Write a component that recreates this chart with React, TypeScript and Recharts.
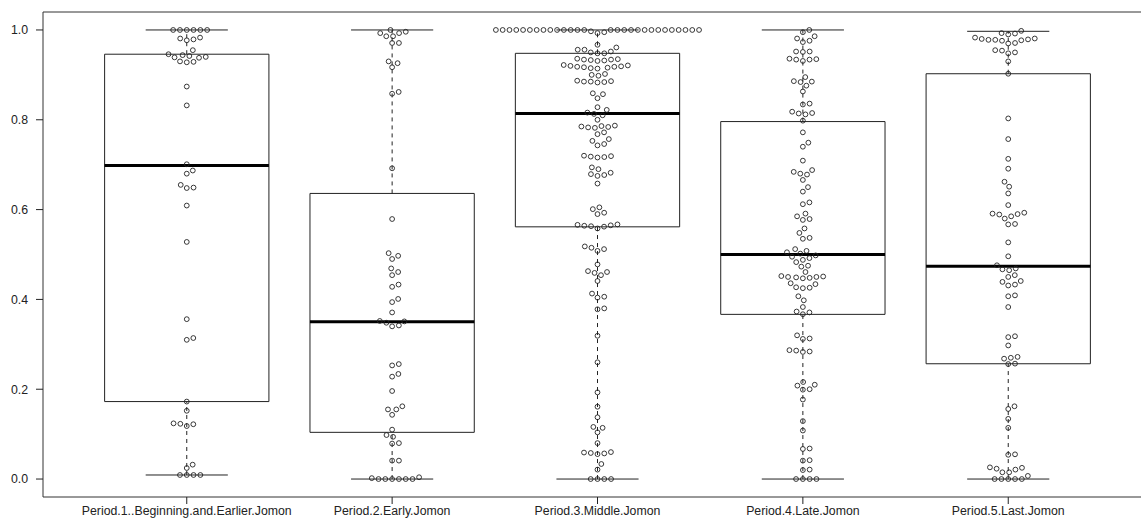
import { ComposedChart, Scatter, XAxis, YAxis, ReferenceArea, ReferenceLine } from 'recharts';

const periods = [
  'Period.1..Beginning.and.Earlier.Jomon',
  'Period.2.Early.Jomon',
  'Period.3.Middle.Jomon',
  'Period.4.Late.Jomon',
  'Period.5.Last.Jomon',
];

const period1 = [
  1, 1, 1, 1, 1, 1, 0.983, 0.981, 0.979, 0.977, 0.955,
  0.946, 0.944, 0.942, 0.94, 0.939, 0.938, 0.93, 0.929, 0.928,
  0.874, 0.832, 0.701, 0.687, 0.68, 0.655, 0.649, 0.648,
  0.609, 0.528, 0.356, 0.314, 0.31, 0.1725, 0.152,
  0.124, 0.123, 0.122, 0.118, 0.032, 0.0245, 0.009, 0.009, 0.009, 0.009,
];

const period2 = [
  1, 0.996, 0.993, 0.993, 0.986, 0.986, 0.971, 0.971,
  0.93, 0.926, 0.917, 0.862, 0.858, 0.692, 0.579,
  0.503, 0.497, 0.49, 0.469, 0.461, 0.454, 0.433, 0.428, 0.401, 0.394, 0.371,
  0.352, 0.351, 0.348, 0.342, 0.34, 0.256, 0.253, 0.234, 0.228, 0.196,
  0.162, 0.155, 0.155, 0.143, 0.11, 0.098, 0.094, 0.08, 0.079, 0.041, 0.041,
  0.004, 0.002, 0, 0, 0, 0, 0, 0,
];

const period3 = [
  1, 1, 1, 1, 1, 1, 1, 1, 1, 1, 1, 1, 1, 1,
  1, 1, 1, 1, 1, 1, 1, 1, 1, 1, 1, 1, 1, 1,
  0.997, 0.995, 0.993,
  0.967, 0.961, 0.956, 0.956, 0.952, 0.95, 0.948, 0.948,
  0.936, 0.935, 0.934, 0.934, 0.933, 0.932, 0.931,
  0.922, 0.921, 0.92, 0.919, 0.918, 0.918, 0.917, 0.916, 0.915, 0.914,
  0.902, 0.9, 0.898, 0.887, 0.886, 0.885, 0.885, 0.884, 0.883,
  0.859, 0.857, 0.848, 0.828, 0.822, 0.816, 0.813, 0.81, 0.8,
  0.787, 0.786, 0.785, 0.784, 0.783, 0.782, 0.772, 0.768, 0.757, 0.753, 0.746, 0.743,
  0.72, 0.719, 0.718, 0.717, 0.716, 0.694, 0.69, 0.682, 0.679, 0.677, 0.675,
  0.658, 0.605, 0.601, 0.593, 0.59, 0.567, 0.566, 0.565, 0.564, 0.563, 0.562,
  0.558, 0.518, 0.515, 0.512, 0.508, 0.478, 0.463, 0.461, 0.459, 0.454, 0.441,
  0.413, 0.406, 0.404, 0.38, 0.378, 0.319, 0.26, 0.193, 0.161, 0.1375,
  0.116, 0.114, 0.104, 0.08, 0.06, 0.059, 0.058, 0.057, 0.0555, 0.0335, 0.021,
  0, 0, 0, 0,
];

const period4 = [
  1, 0.995, 0.986, 0.981, 0.976, 0.973, 0.952, 0.952, 0.951,
  0.936, 0.935, 0.934, 0.934, 0.931, 0.895, 0.886, 0.885, 0.884, 0.876, 0.863,
  0.836, 0.834, 0.818, 0.815, 0.814, 0.812, 0.798, 0.772, 0.749, 0.74, 0.709,
  0.688, 0.684, 0.68, 0.678, 0.666, 0.65, 0.64, 0.616, 0.612,
  0.591, 0.585, 0.579, 0.577, 0.558, 0.548, 0.537, 0.535,
  0.512, 0.508, 0.505, 0.502, 0.498, 0.495, 0.492, 0.488, 0.483, 0.475, 0.473, 0.461,
  0.452, 0.451, 0.45, 0.45, 0.449, 0.448, 0.447, 0.436, 0.434, 0.427, 0.426, 0.425,
  0.407, 0.398, 0.383, 0.373, 0.371, 0.367, 0.32, 0.313, 0.312,
  0.287, 0.286, 0.284, 0.283, 0.216, 0.21, 0.208, 0.2, 0.199,
  0.177, 0.129, 0.108, 0.068, 0.067, 0.042, 0.041, 0.021, 0.02, 0, 0, 0, 0,
];

const period5 = [
  0.998, 0.993, 0.992, 0.99, 0.983, 0.981, 0.98, 0.979, 0.978, 0.978, 0.977, 0.976,
  0.971, 0.97, 0.955, 0.954, 0.95, 0.948, 0.93, 0.9025,
  0.803, 0.757, 0.713, 0.691, 0.662, 0.651, 0.636, 0.61,
  0.593, 0.591, 0.59, 0.589, 0.585, 0.58, 0.568, 0.567, 0.527, 0.496, 0.476,
  0.469, 0.467, 0.465, 0.454, 0.45, 0.441, 0.439, 0.433, 0.431,
  0.409, 0.407, 0.383, 0.318, 0.316, 0.2975, 0.272, 0.27, 0.268, 0.257, 0.256,
  0.162, 0.156, 0.134, 0.114, 0.055, 0.054,
  0.026, 0.025, 0.023, 0.021, 0.015, 0.015, 0.007, 0, 0, 0, 0, 0,
];

// five-number summaries of the boxes
const whiskerLow = [0.009, 0, 0, 0, 0];
const lowerHinge = [0.1725, 0.104, 0.5616, 0.3667, 0.2567];
const medians = [0.698, 0.35, 0.814, 0.5, 0.474];
const upperHinge = [0.946, 0.636, 0.948, 0.796, 0.9025];
const whiskerHigh = [1, 1, 1, 1, 0.997];

const groups = [period1, period2, period3, period4, period5];

const CHART_W = 1152;
const CHART_H = 527;
const Y_AXIS_W = 43;
const X_AXIS_H = 30;
const TOP = 12;
const X_DOMAIN: [number, number] = [0.3, 5.7];
const Y_DOMAIN: [number, number] = [-0.04, 1.04];
const PX_X = (CHART_W - Y_AXIS_W) / (X_DOMAIN[1] - X_DOMAIN[0]);
const PX_Y = (CHART_H - TOP - X_AXIS_H) / (Y_DOMAIN[1] - Y_DOMAIN[0]);
const SPACING = 6.8; // px between swarm point centres
const BOX_HALF = 0.4;
const INK = '#222';

// beeswarm "swarm" layout: place points lowest first, as close to the centre as they fit
function swarmOffsets(values: number[]): number[] {
  const order = values.map((_, i) => i).sort((a, b) => values[a] - values[b]);
  const placed: { x: number; y: number }[] = [];
  const out = new Array(values.length).fill(0);
  for (const i of order) {
    const y = (values[i] * PX_Y) / SPACING;
    const near = placed.filter((p) => Math.abs(p.y - y) < 1);
    const cands = [0];
    for (const p of near) {
      const d = Math.sqrt(1 - (p.y - y) ** 2);
      cands.push(p.x + d, p.x - d);
    }
    let best = Infinity;
    for (const c of cands) {
      if (near.some((p) => (p.x - c) ** 2 + (p.y - y) ** 2 < 0.999)) continue;
      if (Math.abs(c) < Math.abs(best)) best = c;
    }
    placed.push({ x: best, y });
    out[i] = (best * SPACING) / PX_X;
  }
  return out;
}

const points = groups.flatMap((vals, g) => {
  const offs = swarmOffsets(vals);
  return vals.map((v, i) => ({ x: g + 1 + offs[i], y: v }));
});

const OpenCircle = (props: any) => (
  <circle cx={props.cx} cy={props.cy} r={2.4} fill="none" stroke={INK} strokeWidth={0.9} />
);

export default function App() {
  const tickStyle = { fontSize: 12.3, fill: INK, fontFamily: 'Liberation Sans, Arial, sans-serif' };
  return (
    <div
      style={{
        position: 'fixed',
        left: 0,
        top: 0,
        width: 1141,
        height: 527,
        overflow: 'hidden',
        background: '#fff',
      }}
    >
      <ComposedChart
        width={CHART_W}
        height={CHART_H}
        margin={{ top: TOP, right: 0, bottom: 0, left: 0 }}
        data={points}
      >
        <XAxis
          type="number"
          dataKey="x"
          domain={X_DOMAIN}
          ticks={[1, 2, 3, 4, 5]}
          interval={0}
          tickFormatter={(v: number) => periods[v - 1]}
          height={X_AXIS_H}
          tick={tickStyle}
          tickSize={7}
          tickMargin={2}
          tickLine={{ stroke: INK }}
          axisLine={false}
          allowDataOverflow
        />
        <YAxis
          type="number"
          dataKey="y"
          domain={Y_DOMAIN}
          ticks={[0, 0.2, 0.4, 0.6, 0.8, 1]}
          tickFormatter={(v: number) => v.toFixed(1)}
          width={Y_AXIS_W}
          tick={tickStyle}
          tickSize={7}
          tickMargin={8}
          tickLine={{ stroke: INK }}
          axisLine={false}
          allowDataOverflow
        />
        <ReferenceArea
          x1={X_DOMAIN[0]}
          x2={X_DOMAIN[1]}
          y1={Y_DOMAIN[0]}
          y2={Y_DOMAIN[1]}
          fill="none"
          stroke="#333"
          strokeWidth={1}
          ifOverflow="visible"
        />
        {groups.map((_, g) => {
          const c = g + 1;
          return [
            <ReferenceLine
              key={`wl${g}`}
              segment={[{ x: c, y: whiskerLow[g] }, { x: c, y: lowerHinge[g] }]}
              stroke={INK}
              strokeDasharray="4 4"
            />,
            <ReferenceLine
              key={`wh${g}`}
              segment={[{ x: c, y: upperHinge[g] }, { x: c, y: whiskerHigh[g] }]}
              stroke={INK}
              strokeDasharray="4 4"
            />,
            <ReferenceLine
              key={`sl${g}`}
              segment={[{ x: c - BOX_HALF / 2, y: whiskerLow[g] }, { x: c + BOX_HALF / 2, y: whiskerLow[g] }]}
              stroke={INK}
            />,
            <ReferenceLine
              key={`sh${g}`}
              segment={[{ x: c - BOX_HALF / 2, y: whiskerHigh[g] }, { x: c + BOX_HALF / 2, y: whiskerHigh[g] }]}
              stroke={INK}
            />,
            <ReferenceArea
              key={`box${g}`}
              x1={c - BOX_HALF}
              x2={c + BOX_HALF}
              y1={lowerHinge[g]}
              y2={upperHinge[g]}
              fill="none"
              stroke={INK}
              strokeWidth={1}
            />,
            <ReferenceLine
              key={`med${g}`}
              segment={[{ x: c - BOX_HALF, y: medians[g] }, { x: c + BOX_HALF, y: medians[g] }]}
              stroke="#000"
              strokeWidth={3}
            />,
          ];
        })}
        <Scatter data={points} shape={OpenCircle} isAnimationActive={false} />
      </ComposedChart>
    </div>
  );
}
